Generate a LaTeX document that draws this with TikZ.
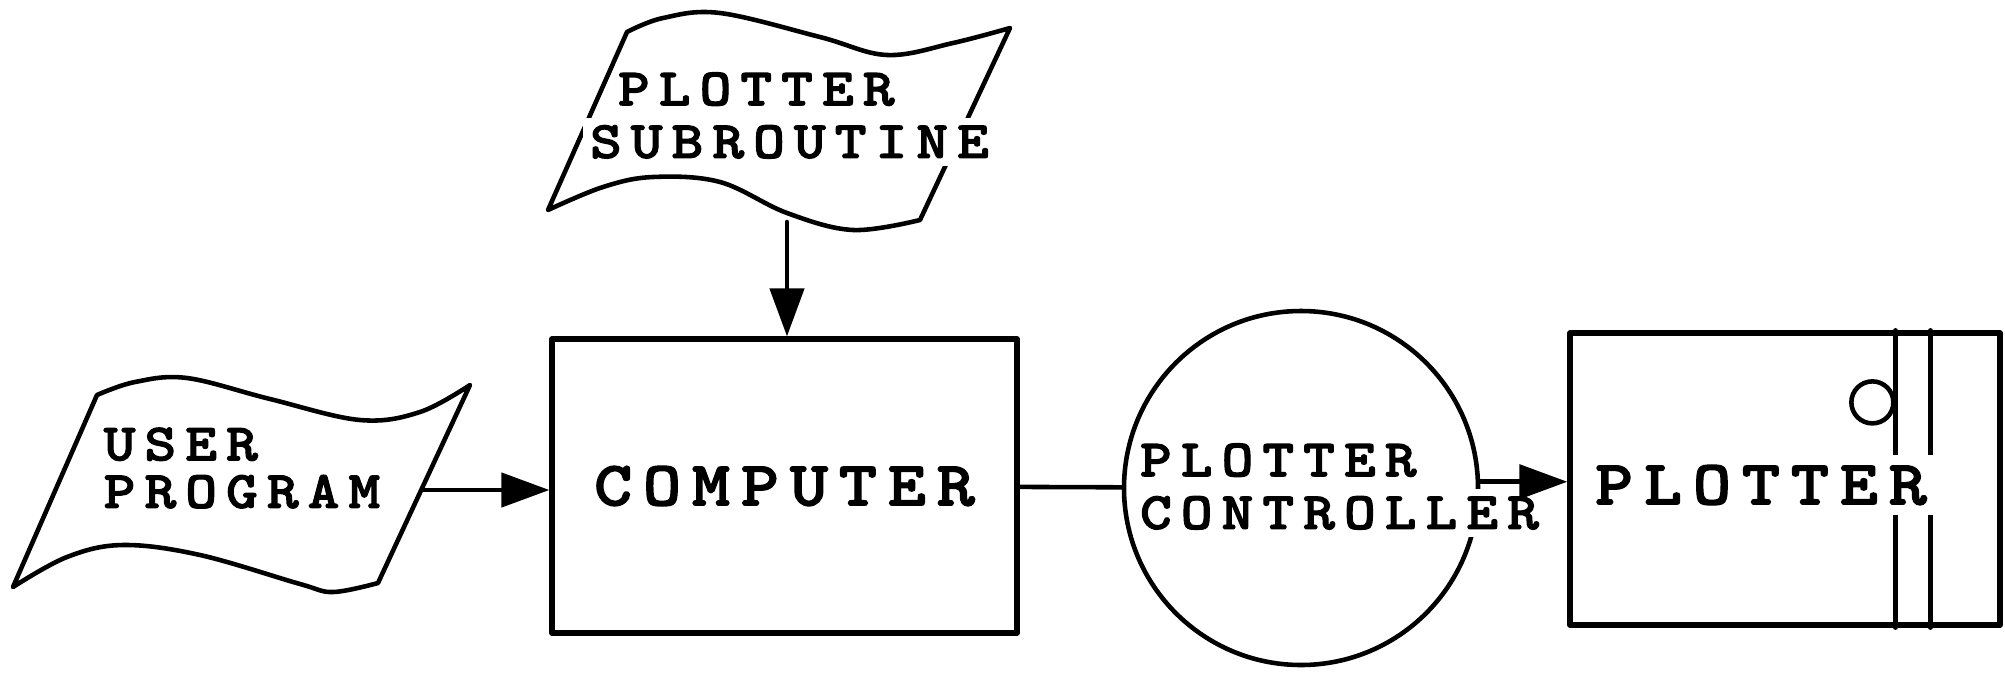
\documentclass[tikz,border=0pt]{standalone}
\usepackage{fontspec}
\usetikzlibrary{arrows.meta}
\newfontfamily\typewriter[FakeStretch=1.15,FakeBold=2,LetterSpace=17]{lmmonolt10-bold.otf}
% white band behind one line of text, so that lines under it break
\newcommand\masked[1]{{\setlength{\fboxsep}{2pt}\hspace*{-2pt}\colorbox{white}{#1}}}

\tikzset{
  box/.style={draw, rectangle, inner sep=0pt, line width=1.5pt},
  tag/.style={inner sep=1mm, align=left, font=\typewriter\fontsize{15}{15}\selectfont},
  bigtag/.style={tag, fill=white, inner sep=2.8pt, font=\typewriter\fontsize{18}{18}\selectfont},
}

\begin{document}
\begin{tikzpicture}[line join=round, line cap=round, >={Triangle[length=4.8mm,width=3.4mm]}, line width=1.3pt]
  \fill[white] (0,0) rectangle (20.05,6.74);
  \useasboundingbox (0,0) rectangle (20.05,6.74);

  % punched-tape flags
  \draw plot[smooth, tension=0.6] coordinates {(0.97,2.79) (1.35,2.92) (1.87,2.96) (2.70,2.75) (3.60,2.54) (4.20,2.62) (4.70,2.89)}
     -- plot[smooth, tension=0.6] coordinates {(3.78,0.91) (3.33,0.82) (3.00,0.90) (2.00,1.19) (1.23,1.29) (0.67,1.17) (0.13,0.87)} -- cycle;
  \draw plot[smooth, tension=0.6] coordinates {(6.27,6.42) (6.63,6.56) (7.20,6.61) (8.20,6.37) (8.87,6.19) (9.53,6.31) (10.10,6.46)}
     -- plot[smooth, tension=0.6] coordinates {(9.20,4.54) (8.53,4.44) (7.87,4.61) (7.20,4.92) (6.53,4.97) (6.03,4.87) (5.48,4.64)} -- cycle;
  \node[tag] (user) at (2.42,2.06) {USER\\[-1.5pt]PROGRAM};
  \node[tag] (sub) at (7.93,5.55) {\hspace{0.28cm}PLOTTER\\\masked{SUBROUTINE}};

  % computer, controller and plotter
  \node[box, minimum width=4.65cm, minimum height=2.94cm, font=\typewriter\fontsize{18}{18}\selectfont] (comp) at (7.845,1.88) {COMPUTER};
  \node[draw, circle, minimum size=3.54cm, inner sep=0pt] (ctrl) at (13.01,1.86) {};
  \node[tag] (ctrltxt) at (13.43,1.84) {PLOTTER\\\masked{CONTROLLER}};

  \node[box, minimum width=4.30cm, minimum height=2.92cm] (plotter) at (17.85,1.95) {};
  \draw ([xshift=3.28cm]plotter.north west) -- ([xshift=3.28cm]plotter.south west)
        ([xshift=3.63cm]plotter.north west) -- ([xshift=3.63cm]plotter.south west);
  \draw ([xshift=3.05cm,yshift=-0.72cm]plotter.north west) circle (0.21);
  \node[bigtag] (plottxt) at (17.61,1.89) {PLOTTER};

  % connections
  \coordinate (userout) at (4.22,1.84);
  \coordinate (subout) at (7.87,4.52);
  \draw[->] (userout) -- (userout -| comp.west);
  \draw[->] (subout) -- (subout |- comp.north);
  \draw (comp) -- (ctrl);
  \draw[->] (ctrl.2) -- (ctrl.2 -| plotter.west);
\end{tikzpicture}
\end{document}
